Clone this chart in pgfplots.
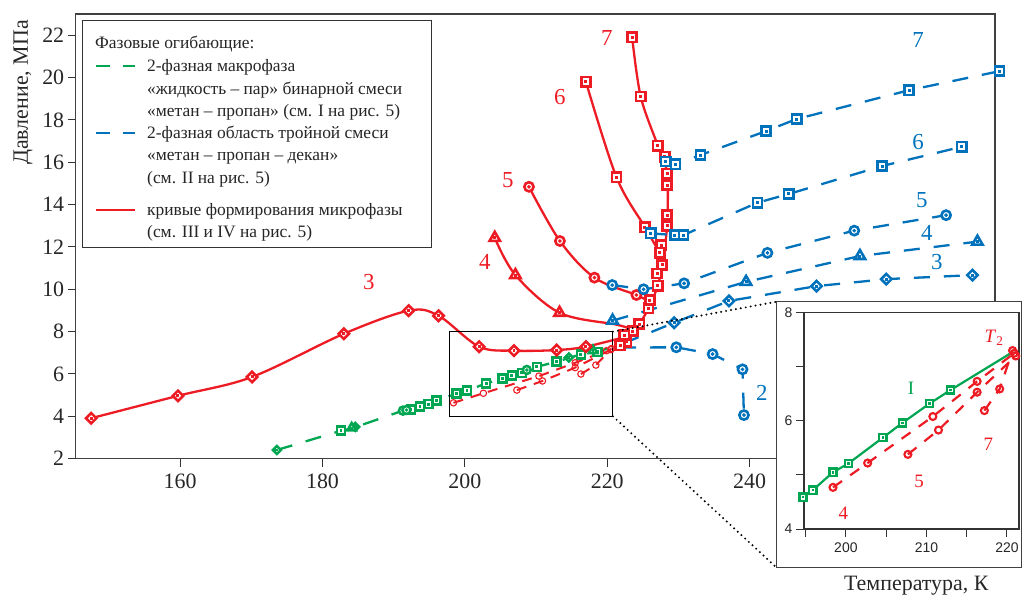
\documentclass[border=0pt]{standalone}
\usepackage{fontspec}
\setmainfont{Liberation Serif}
\newfontfamily\sansf{Liberation Sans}
\usepackage{pgfplots}
\pgfplotsset{compat=1.18}
\definecolor{cred}{HTML}{ED1C24}
\definecolor{cblue}{HTML}{0072BC}
\definecolor{cgreen}{HTML}{00A651}

\pgfdeclareplotmark{dsq}{%
 \pgfpathrectangle{\pgfqpoint{-\pgfplotmarksize}{-\pgfplotmarksize}}{\pgfqpoint{2\pgfplotmarksize}{2\pgfplotmarksize}}%
 \pgfusepathqfillstroke
 \pgfpathrectangle{\pgfqpoint{-0.2pt}{-0.2pt}}{\pgfqpoint{0.4pt}{0.4pt}}%
 \pgfusepathqstroke}
\pgfdeclareplotmark{dcirc}{%
 \pgfpathcircle{\pgfpointorigin}{\pgfplotmarksize}\pgfusepathqfillstroke
 \pgfpathcircle{\pgfpointorigin}{0.2pt}\pgfusepathqstroke}
\pgfdeclareplotmark{dtri}{%
 \pgfpathmoveto{\pgfqpoint{0pt}{\pgfplotmarksize}}%
 \pgfpathlineto{\pgfpointpolar{210}{\pgfplotmarksize}}%
 \pgfpathlineto{\pgfpointpolar{330}{\pgfplotmarksize}}%
 \pgfpathclose\pgfusepathqfillstroke
 \pgfpathrectangle{\pgfqpoint{-0.2pt}{-0.2pt}}{\pgfqpoint{0.4pt}{0.4pt}}%
 \pgfusepathqstroke}
\pgfdeclareplotmark{ddia}{%
 \pgfpathmoveto{\pgfqpoint{0pt}{\pgfplotmarksize}}%
 \pgfpathlineto{\pgfqpoint{\pgfplotmarksize}{0pt}}%
 \pgfpathlineto{\pgfqpoint{0pt}{-\pgfplotmarksize}}%
 \pgfpathlineto{\pgfqpoint{-\pgfplotmarksize}{0pt}}%
 \pgfpathclose\pgfusepathqfillstroke
 \pgfpathrectangle{\pgfqpoint{-0.2pt}{-0.2pt}}{\pgfqpoint{0.4pt}{0.4pt}}%
 \pgfusepathqstroke}

\pgfplotsset{
 redsolid/.style={cred, line width=2.3bp, smooth, tension=0.55, mark options={solid, fill=white, line width=2.6bp}, mark size=4.6bp},
 bluedash/.style={cblue, line width=2.3bp, dash pattern=on 16bp off 14bp, mark options={solid, fill=white, line width=2.6bp}, mark size=4.6bp},
 greendash/.style={cgreen, line width=2.3bp, dash pattern=on 16bp off 14bp, mark options={solid, fill=white, line width=2.5bp}, mark size=4bp},
 redsmall/.style={cred, line width=2bp, dash pattern=on 10bp off 8bp, mark=o, mark options={solid, fill=white, line width=1.1bp}, mark size=3.2bp},
}

\begin{document}
\begin{tikzpicture}
\path[use as bounding box] (0,0) rectangle (1023bp,598bp);
\begin{axis}[
 at={(75.7bp,139.3bp)}, anchor=south west, scale only axis,
 width=919.3bp, height=444.7bp,
 xmin=145.33, xmax=274.47, ymin=2, ymax=23,
 xtick={160,180,200,220,240}, ytick={2,4,...,22},
 tick align=outside, tick pos=left, major tick length=8bp,
 axis line style={draw=black!75, line width=1.2bp},
 every tick/.style={black!80, line width=1bp},
 tick label style={font=\fontsize{22}{22}\selectfont, text=black!85},
 xticklabel style={yshift=-4bp},
 /pgf/number format/assume math mode=true,
 clip=false,
]
% green (binary mixture macrophase)
\addplot[greendash, mark=dsq, mark indices={2,5,6,7,8,9,10,11,12,13,14,15,16,17,18}] coordinates {(173.6,2.41)(182.6,3.32)(184.1,3.43)(191.3,4.27)(192.4,4.33)(193.7,4.46)(194.9,4.58)(196.0,4.74)(198.8,5.07)(200.3,5.21)(203.0,5.56)(205.3,5.78)(206.6,5.94)(208.0,6.05)(210.1,6.34)(212.9,6.58)(216.3,6.93)(218.6,7.05)(221.5,7.35)};
\addplot[greendash, only marks, mark=ddia] coordinates {(173.6,2.41)(184.6,3.5)(214.6,6.78)};
\addplot[greendash, only marks, mark=dtri, mark size=5bp] coordinates {(184.1,3.45)(218.0,7.1)};
\addplot[greendash, only marks, mark=dcirc] coordinates {(191.3,4.27)(191.8,4.3)(208.7,6.19)};
% red small circles (dashed)
\addplot[redsmall] coordinates {(198.4,4.64)(202.6,5.09)(210.4,5.9)(215.5,6.53)(219.9,7.1)};
\addplot[redsmall] coordinates {(207.3,5.24)(210.9,5.67)(215.5,6.3)(220.5,7.15)};
\addplot[redsmall] coordinates {(216.3,6.0)(218.4,6.42)(220.6,7.2)};
% red solid curves
\addplot[redsolid, mark=ddia, mark size=5.2bp, mark indices={1,...,10}] coordinates {(147.5,3.91)(159.7,4.97)(170.1,5.86)(183.0,7.90)(192.1,8.99)(196.3,8.75)(202.0,7.29)(206.9,7.10)(212.9,7.13)(217.0,7.29)(222.5,7.75)};
\addplot[redsolid, mark=dtri, mark size=6bp, mark indices={1,2,3}] coordinates {(204.2,12.43)(207.1,10.67)(213.3,8.89)(221.3,8.33)(223.5,8.1)};
\addplot[redsolid, mark=dcirc, mark indices={1,2,3,4}] coordinates {(209.0,14.84)(213.35,12.28)(218.2,10.55)(224.1,9.73)(226.0,9.4)};
\addplot[redsolid, mark=dsq, mark indices={1,2,3}] coordinates {(217.0,19.8)(221.3,15.29)(225.3,12.93)(227.4,11.7)};
\addplot[redsolid, mark=dsq] coordinates {(223.5,21.9)(224.7,19.1)(227.1,16.78)(228.4,15.47)(228.4,12.99)(227.7,11.15)(227.1,10.17)(225.8,9.1)(224.5,8.36)(222.7,7.52)};
\addplot[redsolid, only marks, mark=dsq] coordinates {(228.1,16.26)(228.4,14.92)(228.4,13.5)(227.6,12.09)(227.4,11.73)(227.0,10.75)(226.0,9.49)(223.6,8.03)(222.4,7.84)(221.8,7.35)};
% blue dashed curves (ternary mixture)
\addplot[bluedash, mark=dcirc, mark indices={2,3,4,5}] coordinates {(221.8,7.25)(229.7,7.26)(234.8,6.94)(239.0,6.22)(239.2,4.06)};
\addplot[bluedash, mark=ddia, mark size=5.2bp, mark indices={2,3,4,5,6}] coordinates {(222.3,7.45)(229.4,8.42)(237.1,9.45)(249.4,10.15)(259.2,10.48)(271.3,10.67)};
\addplot[bluedash, mark=dtri, mark size=6bp] coordinates {(220.75,8.52)(239.5,10.35)(255.5,11.57)(272.0,12.25)};
\addplot[bluedash, mark=dcirc] coordinates {(220.7,10.2)(225.1,10.0)(230.8,10.28)(242.5,11.72)(254.7,12.77)(267.6,13.5)};
\addplot[bluedash, mark=dsq] coordinates {(226.1,12.64)(229.5,12.56)(230.7,12.56)(241.1,14.09)(245.5,14.5)(258.6,15.82)(269.8,16.73)};
\addplot[bluedash, mark=dsq] coordinates {(228.2,16.03)(229.6,15.9)(233.1,16.34)(242.3,17.47)(246.6,18.04)(262.4,19.4)(275.1,20.3)};
% zoom rectangle
\draw[black, line width=1bp] (axis cs:197.8,4) rectangle (axis cs:220.8,8);
\coordinate (rTR) at (axis cs:220.8,8);
\coordinate (rBR) at (axis cs:220.8,4);
% curve labels
\begin{scope}[font=\fontsize{23}{23}\selectfont]
\node[text=cred] at (axis cs:219.96,21.86) {7};
\node[text=cred] at (axis cs:213.35,19.08) {6};
\node[text=cred] at (axis cs:206.05,15.16) {5};
\node[text=cred] at (axis cs:202.8,11.29) {4};
\node[text=cred] at (axis cs:186.5,10.35) {3};
\node[text=cblue] at (axis cs:263.65,21.77) {7};
\node[text=cblue] at (axis cs:263.65,16.95) {6};
\node[text=cblue] at (axis cs:264.2,14.2) {5};
\node[text=cblue] at (axis cs:264.9,12.64) {4};
\node[text=cblue] at (axis cs:266.3,11.27) {3};
\node[text=cblue] at (axis cs:241.7,5.1) {2};
\end{scope}
\end{axis}
% y label
\node[rotate=90, font=\fontsize{22}{22}\selectfont, text=black!85] at (23bp,505.5bp) {Давление, МПа};
% legend
\draw[black!80, line width=0.9bp, fill=white] (82.7bp,351bp) rectangle (431.7bp,577.3bp);
\begin{scope}[every node/.style={anchor=base west, inner sep=0pt, font=\fontsize{17.5}{17.5}\selectfont, text=black!85}]
\node at (95bp,549.7bp) {Фазовые огибающие:};
\node at (147bp,526.7bp) {2-фазная макрофаза};
\node at (147bp,503.7bp) {«жидкость – пар» бинарной смеси};
\node at (147bp,481.7bp) {«метан – пропан» (см. I на рис. 5)};
\node at (147bp,459.7bp) {2-фазная область тройной смеси};
\node at (147bp,437.7bp) {«метан – пропан – декан»};
\node at (147bp,414.7bp) {(см. II на рис. 5)};
\node at (147bp,382.7bp) {кривые формирования микрофазы};
\node at (147bp,360.7bp) {(см. III и IV на рис. 5)};
\end{scope}
\draw[cgreen, line width=2.3bp, dash pattern=on 14bp off 12.7bp] (96bp,532bp) -- (135bp,532bp);
\draw[cblue, line width=2.3bp, dash pattern=on 14bp off 12.7bp] (96bp,465bp) -- (135bp,465bp);
\draw[cred, line width=2.3bp] (96bp,388bp) -- (135bp,388bp);
% dotted connectors
\draw[black, line width=2.2bp, line cap=round, dash pattern=on 0bp off 5bp] (rTR) -- (776.7bp,296.3bp);
\draw[black, line width=2.2bp, line cap=round, dash pattern=on 0bp off 5bp] (rBR) -- (776.7bp,30.3bp);
% inset frame
\draw[black!75, line width=1bp, fill=white] (776.7bp,30.3bp) rectangle (1021.5bp,296.3bp);
\begin{axis}[
 at={(804bp,69bp)}, anchor=south west, scale only axis,
 width=215bp, height=216.3bp,
 xmin=194.8, xmax=221.5, ymin=4, ymax=8,
 xtick={195,200,...,220}, xticklabels={,200,,210,,220},
 ytick={4,5,6,7,8}, yticklabels={4,,6,,8},
 tick align=outside, tick pos=left, major tick length=8bp,
 axis line style={draw=black!80, line width=1.1bp},
 every tick/.style={black!80, line width=1bp},
 tick label style={font=\sansf\fontsize{14}{14}\selectfont, text=black!85},
 xticklabel style={yshift=-2bp},
 /pgf/number format/assume math mode=true,
 clip=false,
]
\addplot[cgreen, line width=2.2bp, mark=dsq, mark size=3.6bp, mark options={fill=white, line width=2.3bp}, mark indices={1,...,8}] coordinates {(194.67,4.59)(195.9,4.72)(198.4,5.05)(200.3,5.21)(204.6,5.69)(207.0,5.96)(210.4,6.32)(213.0,6.57)(220.8,7.28)};
\pgfplotsset{insred/.style={cred, line width=2.2bp, dash pattern=on 11bp off 10bp, mark=o, mark size=3.5bp, mark options={solid, fill=white, line width=2.1bp}}}
\addplot[insred] coordinates {(198.4,4.77)(202.7,5.22)(210.8,6.08)(216.3,6.73)(220.9,7.25)};
\addplot[insred] coordinates {(207.7,5.38)(211.5,5.83)(216.3,6.53)(221.1,7.2)};
\addplot[insred] coordinates {(217.2,6.19)(219.1,6.59)(220.7,7.3)};
\node[text=cgreen, font=\fontsize{19}{19}\selectfont] at (axis cs:208.1,6.6) {I};
\node[text=cred, font=\fontsize{19}{19}\selectfont] at (axis cs:218.4,7.53) {\textit{T}\textsubscript{2}};
\node[text=cred, font=\fontsize{19}{19}\selectfont] at (axis cs:199.7,4.29) {4};
\node[text=cred, font=\fontsize{19}{19}\selectfont] at (axis cs:209.1,4.88) {5};
\node[text=cred, font=\fontsize{19}{19}\selectfont] at (axis cs:217.7,5.57) {7};
\end{axis}
\node[anchor=base, inner sep=0pt, font=\fontsize{22}{22}\selectfont, text=black!85] at (916.3bp,8bp) {Температура, К};
\end{tikzpicture}
\end{document}
